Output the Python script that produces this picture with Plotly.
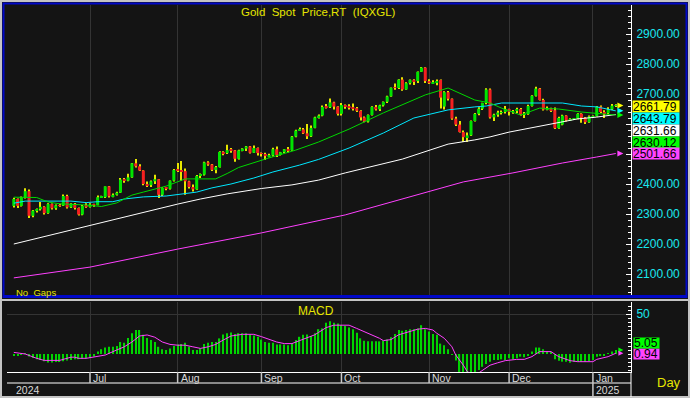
import plotly.graph_objects as go
import pandas as pd
import numpy as np

# ---------------- data ----------------
dates = pd.bdate_range("2024-06-03", "2025-01-09")

opens = [2327,2350,2327,2355,2376,2294,2311,2316,2324,2303,2333,2319,2329,2328,2360,2322,2334,2320,2298,2327,
         2326,2332,2330,2356,2356,2392,2359,2364,2371,2415,2411,2422,2469,2459,2445,2400,2396,2409,2416,2364,2387,2384,2411,
         2447,2446,2443,2409,2390,2382,2427,2431,2472,2465,2447,2456,2507,2503,2513,2512,2484,2512,2518,2525,2504,2520,
         2503,2500,2493,2495,2516,2497,2506,2516,2512,2558,2578,2582,2569,2559,2587,2622,2628,2657,2656,2672,2658,
         2634,2663,2657,2656,2653,2644,2622,2608,2630,2657,2649,2662,2674,2692,2721,2720,2748,2715,2736,2747,2743,2774,2788,
         2743,2736,2737,2747,2658,2706,2684,2618,2598,2573,2556,2562,2610,2634,2651,2670,2715,2622,2631,2638,2640,
         2650,2640,2643,2650,2631,2633,2660,2694,2718,2680,2648,2652,2646,2586,2598,2628,2612,2617,2618,2634,2621,2606,
         2625,2626,2658,2640,2636,2649,2661]
highs = [2354,2352,2358,2386,2382,2313,2318,2340,2326,2336,2335,2332,2334,2365,2364,2336,2337,2322,2330,2336,
         2336,2334,2362,2361,2392,2393,2368,2374,2420,2420,2434,2470,2483,2466,2446,2408,2412,2431,2417,2389,2390,2412,2450,
         2470,2477,2452,2411,2398,2430,2435,2474,2476,2467,2460,2509,2509,2531,2520,2513,2514,2519,2527,2527,2528,2522,
         2505,2504,2501,2521,2525,2507,2517,2523,2560,2581,2588,2587,2600,2595,2624,2632,2662,2667,2685,2674,2659,
         2670,2665,2666,2668,2657,2646,2625,2632,2659,2663,2664,2675,2694,2722,2735,2749,2756,2739,2748,2749,2775,2790,2789,
         2749,2746,2748,2748,2709,2710,2685,2624,2610,2578,2572,2612,2637,2656,2671,2719,2718,2634,2644,2645,2660,
         2651,2647,2654,2653,2640,2664,2696,2724,2720,2684,2658,2654,2655,2624,2631,2629,2619,2619,2636,2636,2623,2628,
         2628,2660,2662,2646,2656,2667,2666]
lows = [2322,2320,2325,2352,2287,2289,2305,2312,2298,2301,2315,2314,2324,2327,2318,2320,2315,2295,2296,2321,
        2322,2324,2329,2353,2353,2355,2356,2362,2370,2404,2409,2421,2455,2443,2396,2390,2390,2400,2353,2360,2379,2382,2408,
        2440,2410,2364,2385,2375,2381,2420,2428,2461,2443,2436,2455,2496,2500,2504,2474,2482,2509,2510,2502,2503,2495,
        2492,2480,2489,2492,2490,2495,2503,2505,2511,2556,2577,2567,2550,2557,2586,2618,2626,2652,2653,2648,2628,
        2628,2651,2648,2645,2640,2612,2606,2605,2628,2645,2643,2658,2670,2691,2714,2717,2711,2714,2732,2730,2737,2773,2737,
        2733,2733,2729,2652,2648,2678,2614,2593,2572,2540,2540,2560,2608,2629,2647,2666,2618,2610,2624,2632,2635,
        2628,2634,2637,2628,2620,2631,2658,2692,2678,2645,2646,2640,2583,2584,2596,2608,2610,2615,2616,2604,2600,2604,
        2623,2625,2637,2620,2633,2647,2657]
closes = [2350,2327,2355,2376,2294,2311,2316,2324,2303,2333,2319,2329,2328,2360,2322,2334,2320,2298,2327,2326,
          2332,2330,2356,2356,2392,2359,2364,2371,2415,2411,2422,2469,2459,2445,2400,2396,2409,2416,2364,2387,2384,2411,2447,
          2446,2443,2409,2390,2382,2427,2431,2472,2465,2447,2456,2507,2503,2513,2512,2484,2512,2518,2525,2504,2520,2503,
          2500,2493,2495,2516,2497,2506,2516,2512,2558,2578,2582,2569,2559,2587,2622,2628,2657,2656,2672,2658,2634,
          2663,2657,2656,2653,2644,2622,2608,2630,2657,2649,2662,2674,2692,2721,2720,2748,2715,2736,2747,2743,2774,2788,2743,
          2736,2737,2743,2688,2706,2684,2618,2598,2573,2556,2562,2610,2634,2651,2670,2715,2622,2631,2638,2640,2650,
          2640,2643,2650,2631,2633,2660,2694,2718,2680,2648,2652,2646,2586,2620,2628,2612,2617,2618,2634,2621,2606,2625,
          2626,2658,2640,2636,2649,2661,2661.79]

# moving averages (trading-day index, value)
ma20_x = [0,6,9,12,19,23,27,31,34,40,45,53,56,59,67,74,80,88,97,103,108,114,118,121,125,128,133,135,138,143,149,155,158]
ma20_y = [2356,2355,2340,2334,2330,2325,2337,2363,2373,2393,2417,2417,2435,2455,2487,2513,2540,2583,2637,2670,
          2697,2720,2697,2680,2670,2653,2630,2640,2653,2650,2640,2633,2630.12]
ma50_x = [0,3,15,19,22,26,29,34,40,45,48,52,57,63,68,75,80,88,97,105,114,121,124,128,137,144,149,153,158]
ma50_y = [2336,2343,2343,2338,2341,2341,2350,2357,2360,2367,2373,2387,2400,2420,2440,2463,2482,2520,2570,2620,
          2647,2657,2660,2670,2670,2670,2660,2657,2643.79]
ma100_x = [0,21,34,40,43,49,56,65,73,80,87,102,108,114,121,125,130,137,143,148,153,158]
ma100_y = [2200,2265,2307,2324,2333,2350,2367,2385,2397,2413,2437,2483,2507,2533,2547,2557,2573,2590,2603,2617,2623,2631.66]
ma200_x = [0,20,43,65,87,102,118,131,144,153,158]
ma200_y = [2087,2123,2183,2237,2297,2349,2407,2437,2470,2490,2501.66]

# MACD histogram (one per day) and signal line readings
macd_hist = [-1.5,-2.5,-1,0.5,-3,-5,-6.5,-7.5,-9,-10.5,-10.5,-10,-10,-9,-8,-7.5,-6.5,-6.5,-6,-5.5,-5,-3,
             3,6,8,9,9,10,15,14,20,26,30,30,24,20,17.5,15,9,6,5,7,10,
             12,12.5,14,9,5,5,7,12.5,14,15,15,19.5,24.5,26,27,25,26,26,26,24.5,23,21.5,
             18,15,14,14,12,12,12,11,13,17.5,21.5,24,24.5,22.5,26,31,32,39,41,39,38,
             36,35,33,31,26.7,19.6,16.7,16,16,15.8,15.8,16.7,18,21,25,30,29,30,31,31,32,36,31,
             28,25,24,13,11,6,-1,-8,-23,-28,-31,-29,-25,-20,-16,-12.5,-9.6,-7.5,-7.5,-6.7,-7.5,
             -5.4,-6.7,-5.4,-3.3,-4,-1.3,3,8,8,6,3,1.7,-6.7,-8.3,-9.6,-9.6,-10.8,-9.6,-9.6,-9.6,-9.6,-8.7,
             -7.5,-3.3,-2.5,-1.3,0.8,3,5.05]
sig_x = [0,3,6,8,12,13,15,16,17,19,21,24,27,29,31,33,35,37,39,41,43,45,47,49,51,53,55,57,60,63,
         65,67,69,71,73,75,77,79,80,82,84,88,90,93,96,97,99,101,104,106,108,110,111,113,115,116,118,119,121,123,
         125,127,129,132,134,136,138,139,141,143,146,148,152,153,156,158]
sig_y = [2,0,-5.4,-8,-8,-6.7,-4,-4,-5.4,-5.4,-4,-1.3,5,9,15,22.5,23.8,21,15,12,11,11,9,7,9,12,17.5,22.5,24.6,24.6,
         21.7,18.3,15,13,13,16.7,20.4,24,27,33,36,36,32,26,19.6,16.7,18,24,28,31,32,30,26,19.6,9,-1.3,-14,-22,-27,-20,
         -14,-11,-8.3,-6.7,-6.7,-3.3,3,3,3,-3.3,-8.3,-9.6,-9.6,-6.7,-3.3,0.94]

price_ticks = [2100, 2200, 2300, 2400, 2500, 2600, 2700, 2800, 2900]
hidden_price_ticks = [2500, 2600]   # covered by the value boxes in the original
title_text = "Gold\u00a0\u00a0Spot\u00a0\u00a0Price,RT\u00a0\u00a0(IQXGL)"

# ---------------- geometry helpers (pixels -> paper) ----------------
W, H = 690, 398
PL, PR, PT, PB = 7, 631, 5, 372
def px(xp): return (xp - PL) / (PR - PL)
def py(yp): return (PB - yp) / (PB - PT)

n = len(dates)
idx = np.arange(n)
o = np.array(opens, float); h = np.array(highs, float)
l = np.array(lows, float); c = np.array(closes, float)

month_idx = [i for i in range(1, n) if dates[i].month != dates[i - 1].month]

BG = "#141414"
GRID = "#343434"
YEL = "#e6e600"
FONT = "Liberation Sans, Arial, sans-serif"

fig = go.Figure()

# moving averages (drawn first)
for xs, ys, col in [(ma200_x, ma200_y, "#ff40ff"), (ma100_x, ma100_y, "#ffffff"),
                    (ma50_x, ma50_y, "#00e8ff"), (ma20_x, ma20_y, "#00d800")]:
    fig.add_trace(go.Scatter(x=xs, y=ys, mode="lines", line=dict(color=col, width=1),
                             xaxis="x", yaxis="y"))

# wicks (thin bars)
fig.add_trace(go.Bar(x=idx, y=h - l, base=l, width=0.27,
                     marker=dict(color=YEL, line=dict(width=0)), xaxis="x", yaxis="y"))
# bodies
body_base = np.minimum(o, c)
body_h = np.maximum(np.abs(c - o), 1.5)
body_col = ["#00e400" if c[i] >= o[i] else "#f42020" for i in idx]
fig.add_trace(go.Bar(x=idx, y=body_h, base=body_base, width=0.8,
                     marker=dict(color=body_col, line=dict(width=0)),
                     xaxis="x", yaxis="y"))

# MACD
fig.add_trace(go.Bar(x=idx, y=macd_hist, width=0.32,
                     marker=dict(color="#00d400", line=dict(width=0)),
                     xaxis="x2", yaxis="y2"))
fig.add_trace(go.Scatter(x=sig_x, y=sig_y, mode="lines", line=dict(color="#ff40ff", width=1),
                         xaxis="x2", yaxis="y2"))

# end-of-line arrows
last_price = closes[-1]
arrow_x = 160
fig.add_trace(go.Scatter(x=[arrow_x] * 4, y=[last_price, ma50_y[-1], ma20_y[-1], ma200_y[-1]],
                         mode="markers", cliponaxis=False,
                         marker=dict(symbol="arrow-right", size=6,
                                     color=["#ffff00", "#00ffff", "#00ff00", "#ff44ff"],
                                     line=dict(width=0)),
                         xaxis="x", yaxis="y"))
fig.add_trace(go.Scatter(x=[arrow_x] * 2, y=[macd_hist[-1], sig_y[-1]],
                         mode="markers", cliponaxis=False,
                         marker=dict(symbol="arrow-right", size=5, color=["#00ff00", "#ff44ff"],
                                     line=dict(width=0)),
                         xaxis="x2", yaxis="y2"))

xr = [(PL - 13.8) / 3.81, (PR - 13.8) / 3.81]
yr_price = [2900 - (296 - 34) / 0.3, 2900 + (34 - 5) / 0.3]
yr_macd = [-22.5, 65]
dom_price = [py(296), 1]
dom_macd = [0, py(302)]

axis_common = dict(zeroline=False, fixedrange=True, automargin=False)

fig.update_layout(
    width=W, height=H, autosize=False,
    margin=dict(l=PL, r=W - PR, t=PT, b=H - PB, pad=0),
    paper_bgcolor=BG, plot_bgcolor=BG,
    showlegend=False, barmode="overlay",
    font=dict(family=FONT),
    xaxis=dict(domain=[0, 1], anchor="y", range=xr, tickmode="array", tickvals=month_idx,
               showticklabels=False, ticks="", showgrid=True, gridcolor=GRID, gridwidth=1,
               showline=False, **axis_common),
    xaxis2=dict(domain=[0, 1], anchor="y2", range=xr, matches="x", tickmode="array", tickvals=month_idx,
                showticklabels=False, ticks="", showgrid=True, gridcolor=GRID, gridwidth=1,
                showline=True, linecolor="#ffffff", linewidth=1, **axis_common),
    yaxis=dict(domain=dom_price, anchor="x", side="right", range=yr_price,
               tickmode="array", tickvals=price_ticks,
               ticktext=["" if t in hidden_price_ticks else f"{t:.2f}" for t in price_ticks],
               ticks="inside", ticklen=5, tickcolor="#ffffff", tickwidth=1,
               tickfont=dict(size=12, color="#19e8f0", family=FONT), ticklabelstandoff=2,
               minor=dict(tickmode="linear", tick0=2100, dtick=20, ticks="inside", ticklen=3,
                          tickcolor="#ffffff", showgrid=False),
               showgrid=False, showline=True, linecolor="#ffffff", linewidth=1, **axis_common),
    yaxis5=dict(overlaying="y", anchor="x", side="right", range=yr_price, tickmode="linear",
                tick0=2000, dtick=200, showticklabels=False, ticks="", showgrid=True,
                gridcolor=GRID, showline=False, **axis_common),
    yaxis3=dict(overlaying="y", anchor="x", side="left", range=yr_price, tickmode="linear",
                tick0=2900, dtick=100 / 3, ticks="inside", ticklen=3, tickcolor="#ffffff",
                showticklabels=False, showgrid=False, showline=True, linecolor="#ffffff",
                linewidth=1, **axis_common),
    yaxis2=dict(domain=dom_macd, anchor="x2", side="right", range=yr_macd,
                tickmode="array", tickvals=[50], ticktext=["50"],
                ticks="inside", ticklen=5, tickcolor="#ffffff",
                tickfont=dict(size=12, color="#19e8f0", family=FONT), ticklabelstandoff=2,
                minor=dict(tickmode="linear", tick0=0, dtick=5, ticks="inside", ticklen=3,
                           tickcolor="#ffffff", showgrid=False),
                showgrid=True, gridcolor=GRID, showline=True, linecolor="#ffffff",
                linewidth=1, **axis_common),
    yaxis4=dict(overlaying="y2", anchor="x2", side="left", range=yr_macd, tickmode="linear",
                tick0=0, dtick=10, ticks="inside", ticklen=3, tickcolor="#ffffff",
                showticklabels=False, showgrid=False, showline=True, linecolor="#ffffff",
                linewidth=1, **axis_common),
)

ann = []
def text(xp, yp, s, size, color=YEL, xanchor="left"):
    ann.append(dict(xref="paper", yref="paper", x=px(xp), y=py(yp), text=s, showarrow=False,
                    xanchor=xanchor, yanchor="middle", font=dict(size=size, color=color, family=FONT)))

text(318, 12, title_text, 11.5, xanchor="center")
text(14, 292, "No\u00a0\u00a0Gaps", 9.5)
text(316, 311, "MACD", 12, xanchor="center")
text(655, 383, "Day", 13)

# month / year labels
for m in month_idx:
    ann.append(dict(xref="x", yref="paper", x=m, y=py(378), xshift=1, text=dates[m].strftime("%b"),
                    showarrow=False, xanchor="left", yanchor="middle",
                    font=dict(size=10.5, color="#d8d8d8", family=FONT)))
text(14, 390.5, str(dates[0].year), 10.5, color="#d8d8d8")
for m in month_idx:
    if dates[m].year != dates[m - 1].year:
        ann.append(dict(xref="x", yref="paper", x=m, y=py(390.5), xshift=1, text=str(dates[m].year),
                        showarrow=False, xanchor="left", yanchor="middle",
                        font=dict(size=10.5, color="#d8d8d8", family=FONT)))

# right-side value boxes for price panel
stack = [(last_price, "#ffff00"), (ma50_y[-1], "#00ffff"), (ma100_y[-1], "#ffffff"), (ma20_y[-1], "#00ff00")]
for k, (v, col) in enumerate(stack):
    ann.append(dict(xref="paper", yref="y", x=px(632), y=last_price, yshift=-1 - 12 * k,
                    text=f"{v:.2f}", showarrow=False, xanchor="left", yanchor="middle",
                    width=46, height=11, bgcolor=col, borderpad=0, align="left",
                    font=dict(size=12, color="#000000", family=FONT)))
ann.append(dict(xref="paper", yref="y", x=px(632), y=ma200_y[-1], text=f"{ma200_y[-1]:.2f}",
                showarrow=False, xanchor="left", yanchor="middle", width=46, height=11,
                bgcolor="#ff44ff", borderpad=0, align="left",
                font=dict(size=12, color="#000000", family=FONT)))

# MACD value boxes
ann.append(dict(xref="paper", yref="y2", x=px(633), y=sig_y[-1], yshift=-0.5, text=f"{sig_y[-1]:.2f}",
                showarrow=False, xanchor="left", yanchor="middle", width=25, height=10,
                bgcolor="#ff44ff", borderpad=0, align="left",
                font=dict(size=12, color="#000000", family=FONT)))
ann.append(dict(xref="paper", yref="y2", x=px(633), y=sig_y[-1], yshift=10.5, text=f"{macd_hist[-1]:.2f}",
                showarrow=False, xanchor="left", yanchor="middle", width=25, height=10,
                bgcolor="#00ff00", borderpad=0, align="left",
                font=dict(size=12, color="#000000", family=FONT)))

fig.update_layout(annotations=ann)

# frame / separators
shapes = []
def rect(x0, y0, x1, y1, col, w):
    shapes.append(dict(type="rect", xref="paper", yref="paper", x0=px(x0), x1=px(x1),
                       y0=py(y0), y1=py(y1), line=dict(color=col, width=w), fillcolor="rgba(0,0,0,0)"))
def line(x0, y0, x1, y1, col, w):
    shapes.append(dict(type="line", xref="paper", yref="paper", x0=px(x0), x1=px(x1),
                       y0=py(y0), y1=py(y1), line=dict(color=col, width=w)))

rect(1, 1, 689, 397, "#c4c4c4", 2)
rect(3.5, 3.5, 686.5, 297, "#0008c8", 2)
line(3.5, 296.5, 686.5, 296.5, "#0008c8", 3)
line(2, 300, 688, 300, "#c4c4c4", 2)
line(PL, 383, PR, 383, "#ffffff", 1)
line(PR, 372, PR, 397, "#ffffff", 1)
for m in month_idx:
    bottom = 397 if dates[m].year != dates[m - 1].year else 383
    shapes.append(dict(type="line", xref="x", yref="paper", x0=m, x1=m, y0=py(372), y1=py(bottom),
                       line=dict(color="#c8c8c8", width=1.5)))
fig.update_layout(shapes=shapes)

fig.write_html("out.html", config={"displayModeBar": False},
               post_script="document.body.style.margin='0';document.body.style.padding='0';"
                           "document.body.style.overflow='hidden';")
